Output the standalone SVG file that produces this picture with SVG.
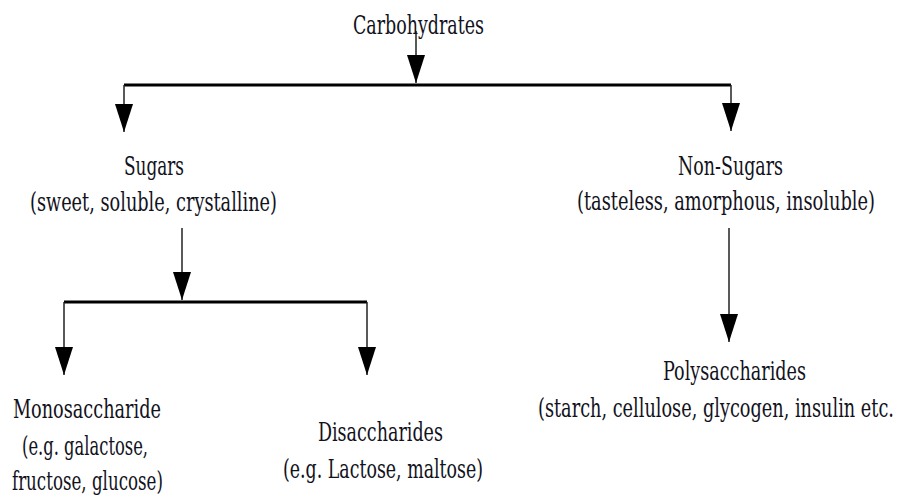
<svg xmlns="http://www.w3.org/2000/svg" width="898" height="495" viewBox="0 0 898 495">
  <defs>
    <marker id="arrow" markerUnits="userSpaceOnUse" markerWidth="28" markerHeight="18" refX="28" refY="9" orient="auto">
      <path d="M0,0 L28,9 L0,18 z" fill="#000"/>
    </marker>
    <style>
      .t { font-family: 'DejaVu Serif', 'Liberation Serif', serif; font-size: 26px; fill: #12121c; }
      .bar { stroke: #000; stroke-width: 3; fill: none; }
      .drop { stroke: #222; stroke-width: 1.5; fill: none; marker-end: url(#arrow); }
    </style>
  </defs>
  <rect width="898" height="495" fill="#fff"/>

  <g id="connectors">
    <line class="drop" x1="416" y1="31" x2="416" y2="83"/>
    <line class="bar" x1="124" y1="85" x2="731" y2="85"/>
    <line class="drop" x1="124" y1="85" x2="124" y2="132"/>
    <line class="drop" x1="731" y1="85" x2="731" y2="131"/>
    <line class="drop" x1="182" y1="228" x2="182" y2="300"/>
    <line class="bar" x1="64" y1="302" x2="367" y2="302"/>
    <line class="drop" x1="64" y1="302" x2="64" y2="375"/>
    <line class="drop" x1="367" y1="302" x2="367" y2="375"/>
    <line class="drop" x1="729" y1="228" x2="729" y2="342"/>
  </g>

  <g id="carbohydrates" transform="scale(0.68,1)">
    <text class="t" x="519.1" y="34" textLength="192.6" lengthAdjust="spacingAndGlyphs">Carbohydrates</text>
  </g>

  <g id="sugars" transform="scale(0.68,1)">
    <text class="t" x="182.4" y="175" textLength="88.2" lengthAdjust="spacingAndGlyphs">Sugars</text>
    <text class="t" x="44.1" y="211" textLength="363.2" lengthAdjust="spacingAndGlyphs">(sweet, soluble, crystalline)</text>
  </g>

  <g id="non-sugars" transform="scale(0.68,1)">
    <text class="t" x="997.1" y="175" textLength="154.4" lengthAdjust="spacingAndGlyphs">Non-Sugars</text>
    <text class="t" x="848.5" y="210" textLength="438.2" lengthAdjust="spacingAndGlyphs">(tasteless, amorphous, insoluble)</text>
  </g>

  <g id="monosaccharide" transform="scale(0.68,1)">
    <text class="t" x="19.1" y="418" textLength="217.6" lengthAdjust="spacingAndGlyphs">Monosaccharide</text>
    <text class="t" x="32.4" y="455" textLength="185.3" lengthAdjust="spacingAndGlyphs">(e.g. galactose,</text>
    <text class="t" x="17.6" y="490" textLength="222.1" lengthAdjust="spacingAndGlyphs">fructose, glucose)</text>
  </g>

  <g id="disaccharides" transform="scale(0.68,1)">
    <text class="t" x="467.6" y="441" textLength="183.8" lengthAdjust="spacingAndGlyphs">Disaccharides</text>
    <text class="t" x="416.2" y="478" textLength="294.1" lengthAdjust="spacingAndGlyphs">(e.g. Lactose, maltose)</text>
  </g>

  <g id="polysaccharides" transform="scale(0.68,1)">
    <text class="t" x="975" y="380" textLength="210.3" lengthAdjust="spacingAndGlyphs">Polysaccharides</text>
    <text class="t" x="791.2" y="417" textLength="523.5" lengthAdjust="spacingAndGlyphs">(starch, cellulose, glycogen, insulin etc.</text>
  </g>
</svg>
